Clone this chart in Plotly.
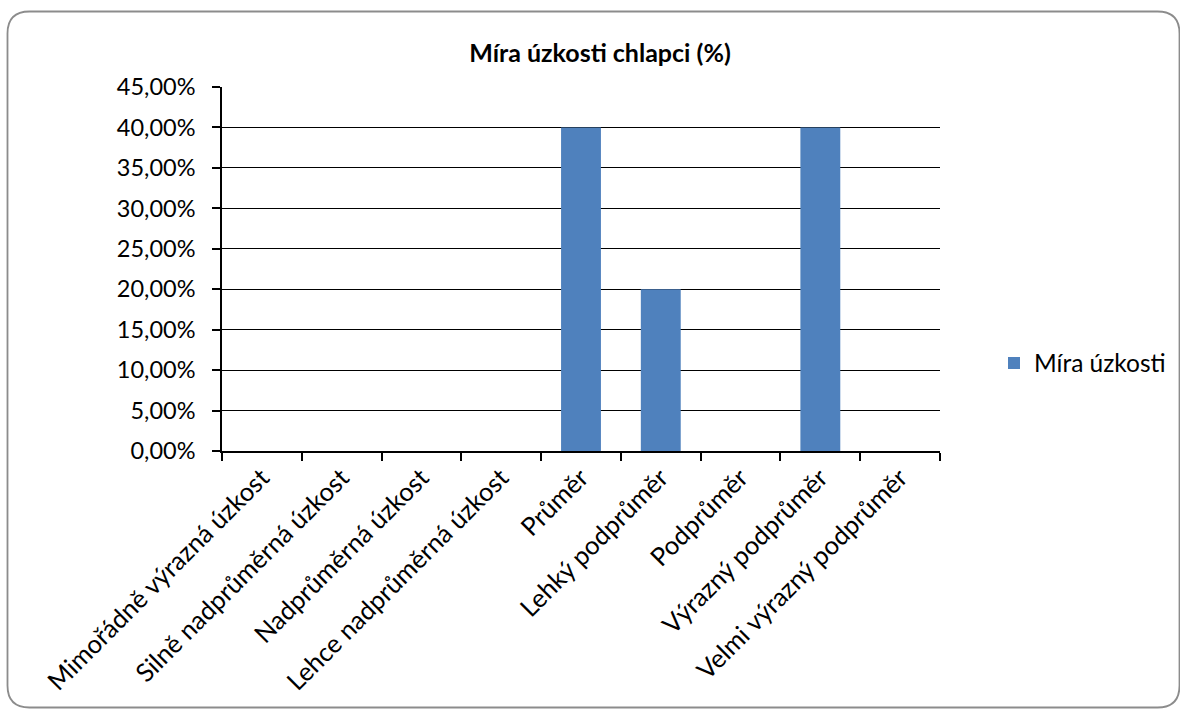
import plotly.graph_objects as go

categories = [
    "Mimořádně výrazná úzkost",
    "Silně nadprůměrná úzkost",
    "Nadprůměrná úzkost",
    "Lehce nadprůměrná úzkost",
    "Průměr",
    "Lehký podprůměr",
    "Podprůměr",
    "Výrazný podprůměr",
    "Velmi výrazný podprůměr",
]
values = [0, 0, 0, 0, 0.40, 0.20, 0, 0.40, 0]
series_name = "Míra úzkosti"
title_text = "Míra úzkosti chlapci (%)"

W, H = 1180, 709
L, R, T, B = 222, 240, 87, 258
PW, PH = W - L - R, H - T - B
FONT = "Lato"

def px(x):
    return (x - L) / PW

def py(y):
    return (H - B - y) / PH

def rounded_path(x0, y0, x1, y1, r):
    pts = [
        ("M", px(x0 + r), py(y0)),
        ("L", px(x1 - r), py(y0)),
        ("Q", px(x1), py(y0), px(x1), py(y0 + r)),
        ("L", px(x1), py(y1 - r)),
        ("Q", px(x1), py(y1), px(x1 - r), py(y1)),
        ("L", px(x0 + r), py(y1)),
        ("Q", px(x0), py(y1), px(x0), py(y1 - r)),
        ("L", px(x0), py(y0 + r)),
        ("Q", px(x0), py(y0), px(x0 + r), py(y0)),
    ]
    s = ""
    for p in pts:
        cmd = p[0]
        nums = p[1:]
        coords = " ".join(f"{nums[i]:.5f},{nums[i+1]:.5f}" for i in range(0, len(nums), 2))
        s += f"{cmd}{coords} "
    return s + "Z"

fig = go.Figure()
fig.add_trace(go.Bar(
    x=categories,
    y=values,
    name=series_name,
    marker=dict(color="#4F81BD", line=dict(width=0)),
    showlegend=True,
))

fig.update_layout(
    width=W,
    height=H,
    margin=dict(l=L, r=R, t=T, b=B, autoexpand=False),
    paper_bgcolor="white",
    plot_bgcolor="white",
    separators=",.",
    bargap=0.5,
    font=dict(family=FONT, size=23, color="black"),
    title=dict(
        text=f"<b>{title_text}</b>",
        font=dict(family=FONT, size=25, color="black"),
        x=600 / W,
        xref="container",
        xanchor="center",
        y=1 - 53 / H,
        yref="container",
        yanchor="middle",
    ),
    showlegend=True,
    legend=dict(
        x=px(994),
        y=py(363),
        xref="paper",
        yref="paper",
        xanchor="left",
        yanchor="middle",
        font=dict(family=FONT, size=24.5, color="black"),
        bgcolor="rgba(0,0,0,0)",
        itemwidth=30,
    ),
    xaxis=dict(
        type="category",
        tickangle=-45,
        tickson="boundaries",
        ticks="outside",
        ticklen=8,
        tickwidth=1.5,
        tickcolor="black",
        showline=True,
        linecolor="black",
        linewidth=1.5,
        showgrid=False,
        tickfont=dict(family=FONT, size=25.5, color="black"),
        automargin=False,
        range=[-0.5, 8.5],
    ),
    yaxis=dict(
        range=[0, 0.45],
        dtick=0.05,
        tick0=0,
        tickformat=".2%",
        ticks="outside",
        ticklen=8,
        tickwidth=1.5,
        tickcolor="black",
        showline=True,
        linecolor="black",
        linewidth=1.5,
        showgrid=True,
        gridcolor="black",
        gridwidth=1.2,
        zeroline=False,
        ticklabelstandoff=12,
        tickfont=dict(family=FONT, size=23.5, color="black"),
        automargin=False,
    ),
    shapes=[dict(
        type="path",
        xref="paper",
        yref="paper",
        path=rounded_path(7.5, 11.5, 1179.5, 707.5, 22),
        line=dict(color="#8c8c8c", width=1.8),
        fillcolor="rgba(0,0,0,0)",
        layer="above",
    )],
)

fig.write_html("out.html")
